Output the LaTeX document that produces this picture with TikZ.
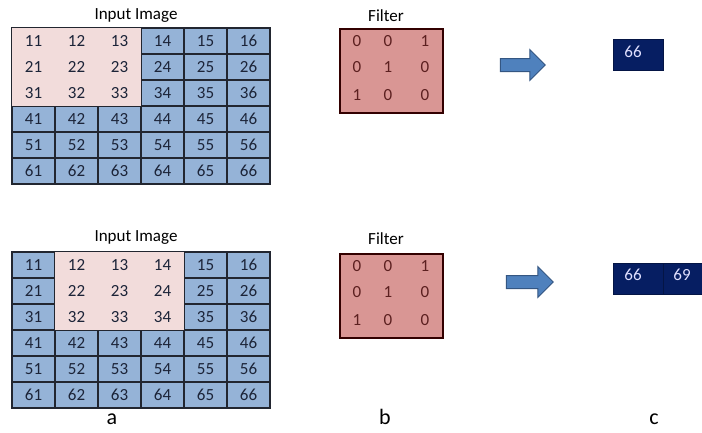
\documentclass[tikz,border=0pt]{standalone}
\usepackage{fontspec}
\setmainfont{Carlito}
\usetikzlibrary{shapes.arrows}
\definecolor{cellblue}{RGB}{149,179,215}
\definecolor{winpink}{RGB}{242,220,219}
\definecolor{filtred}{RGB}{217,150,148}
\definecolor{outnavy}{RGB}{6,30,98}
\definecolor{arrblue}{RGB}{79,129,189}
\definecolor{arredge}{RGB}{52,86,130}
\definecolor{numtext}{RGB}{28,36,56}
\definecolor{filttext}{RGB}{92,32,32}
\definecolor{gridline}{RGB}{34,38,48}
\tikzset{
  cell/.style={draw=gridline, line width=1.2pt, fill=cellblue, minimum width=43pt,
    minimum height=26pt, inner sep=0pt},
  num/.style={text=numtext, font=\fontsize{17}{18}\selectfont},
  window/.style={draw=gridline, line width=1.2pt, fill=winpink},
  title/.style={font=\fontsize{17}{18}\selectfont},
  filterbox/.style={draw=black!80!red, line width=1.4pt, fill=filtred, minimum width=103pt,
    minimum height=84pt, inner sep=0pt},
  fnum/.style={text=filttext, font=\fontsize{17}{18}\selectfont},
  outcell/.style={fill=outnavy, draw=outnavy!70!black, line width=0.6pt, minimum width=50pt,
    minimum height=31pt, inner sep=0pt},
  onum/.style={text=white!88!blue, font=\fontsize{17}{18}\selectfont},
  bigarrow/.style={single arrow, draw=arredge, line width=1pt, fill=arrblue, inner sep=6pt,
    single arrow head extend=9pt, shape border rotate=0},
  letter/.style={anchor=base, inner sep=0pt, font=\fontsize{22}{24}\selectfont}
}
\begin{document}
\begin{tikzpicture}[x=1pt,y=-1pt]
\useasboundingbox (0,0) rectangle (702,432);
\clip (0,0) rectangle (702,432);

% input images: top window over columns 1-3, bottom window over columns 2-4
\node [title] (intitle1) at (136,16) {Input Image};
\node [title] (intitle2) at (136,238) {Input Image};
\foreach \g/\top in {1/28,2/252}{
  \foreach \r in {1,...,6}
    \foreach \c in {1,...,6}
      \node [cell] (g\g-\r\c) at ({12+43*(\c-0.5)},{\top+26*(\r-0.5)}) {};
}
\draw [window] (g1-11.north west) rectangle (g1-33.south east);
\draw [window] (g2-12.north west) rectangle (g2-34.south east);
\foreach \g in {1,2}
  \foreach \r in {1,...,6}
    \foreach \c in {1,...,6}
      \node [num] at (g\g-\r\c) {\r\c};

% filters
\node [title] (ftitle1) at (386,16) {Filter};
\node [title] (ftitle2) at (386,239) {Filter};
\node [filterbox] (filter1) at (391.5,71) {};
\node [filterbox] (filter2) at (391.5,296) {};
\foreach \f/\top in {1/29,2/254}{
  \foreach \r/\vals in {1/{0,0,1},2/{0,1,0},3/{1,0,0}}{
    \foreach \v [count=\c] in \vals{
      \pgfmathsetmacro{\fx}{{357,388,425}[\c-1]}
      \pgfmathsetmacro{\fy}{\top+{12,38,66}[\r-1]}
      \node [fnum] at (\fx,\fy) {\v};
    }
  }
}

% arrows
\node [bigarrow, minimum height=45pt] (arrow1) at (519.5,65) {};
\node [bigarrow, minimum height=47pt] (arrow2) at (526.5,282) {};

% outputs
\node [outcell] (out1) at (638,55) {};
\node [onum] at ([xshift=-5pt,yshift=3pt]out1.center) {66};
\node [outcell] (out2a) at (638,278.5) {};
\node [outcell] (out2b) at (688,278.5) {};
\node [onum] at ([xshift=-5pt,yshift=3.5pt]out2a.center) {66};
\node [onum] at ([xshift=-6pt,yshift=3.5pt]out2b.center) {69};

% labels
\node [letter] (la) at (112,424) {a};
\node [letter] (lb) at (385,424) {b};
\node [letter] (lc) at (654,424) {c};
\end{tikzpicture}
\end{document}
